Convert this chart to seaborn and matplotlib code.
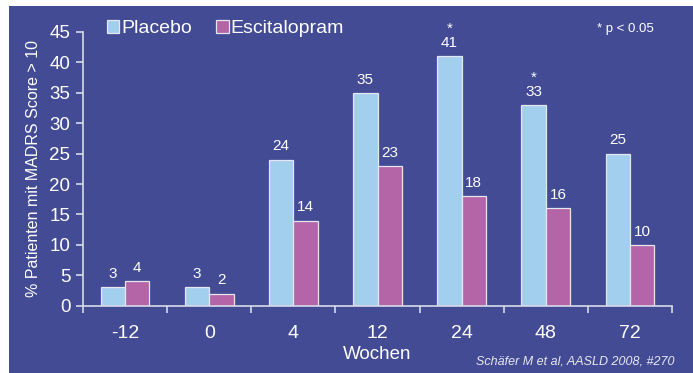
import matplotlib
matplotlib.use("Agg")
import matplotlib.pyplot as plt
import seaborn as sns
import pandas as pd
from matplotlib.patches import Rectangle, Patch

weeks = ["-12", "0", "4", "12", "24", "48", "72"]
placebo = [3, 3, 24, 35, 41, 33, 25]
escitalopram = [4, 2, 14, 23, 18, 16, 10]
placebo_sig = ["", "", "", "", "*", "*", ""]
series_names = ["Placebo", "Escitalopram"]

BG = "#424b94"
C_PLA = "#a3cfee"
C_ESC = "#b465a8"
FG = "white"
SPINE = "#d8dbe8"
EDGE = "#e4e6f0"

df = pd.DataFrame({
    "Wochen": weeks * 2,
    "value": placebo + escitalopram,
    "group": [series_names[0]] * len(weeks) + [series_names[1]] * len(weeks),
})

sns.set_theme(style="white")
plt.rcParams["font.family"] = ["Liberation Sans", "DejaVu Sans"]

fig = plt.figure(figsize=(6.93, 3.73), dpi=100, facecolor="white")
fig.patches.append(Rectangle((9 / 693, 0), 1 - 9 / 693, 1 - 6 / 373,
                             transform=fig.transFigure, facecolor=BG,
                             edgecolor="none", zorder=-10))
ax = fig.add_axes([83 / 693, 1 - 305.7 / 373, (672 - 83) / 693, (305.7 - 32) / 373])
ax.set_facecolor("none")

sns.barplot(data=df, x="Wochen", y="value", hue="group", order=weeks,
            hue_order=series_names, palette=[C_PLA, C_ESC], saturation=1,
            width=0.58, gap=0, edgecolor=EDGE, linewidth=0.9, ax=ax, legend=False)

ax.set_ylim(0, 45)
ax.set_xlim(-0.5, len(weeks) - 0.5)
ax.set_yticks(range(0, 46, 5))
ax.tick_params(axis="y", colors=SPINE, labelcolor=FG, labelsize=13.5, length=5,
               width=1.2, left=True, direction="out", pad=4)
ax.set_xticks(range(len(weeks)))
ax.set_xticklabels(weeks)
ax.tick_params(axis="x", which="major", length=0, labelcolor=FG, labelsize=14, pad=14)
ax.set_xticks([i - 0.5 for i in range(len(weeks) + 1)], minor=True)
ax.tick_params(axis="x", which="minor", length=5, width=1.2, color=SPINE,
               bottom=True, direction="out")
for s in ["top", "right"]:
    ax.spines[s].set_visible(False)
for s in ["left", "bottom"]:
    ax.spines[s].set_color(SPINE)
    ax.spines[s].set_linewidth(1.2)

ax.set_xlabel("Wochen", color=FG, fontsize=13.5, labelpad=3)
ax.set_ylabel("% Patienten mit MADRS Score > 10", color=FG, fontsize=11.5, labelpad=6)

ax.bar_label(ax.containers[0], labels=[str(v) for v in placebo], padding=4.5,
             color=FG, fontsize=11)
ax.bar_label(ax.containers[1], labels=[str(v) for v in escitalopram], padding=4.5,
             color=FG, fontsize=11)
for bar, s in zip(ax.containers[0], placebo_sig):
    if s:
        ax.annotate(s, xy=(bar.get_x() + bar.get_width() / 2, bar.get_height()),
                    xytext=(0, 17), textcoords="offset points", ha="center",
                    va="baseline", color=FG, fontsize=11)

handles = [Patch(facecolor=C_PLA, edgecolor=EDGE, linewidth=0.9),
           Patch(facecolor=C_ESC, edgecolor=EDGE, linewidth=0.9)]
leg = fig.legend(handles, series_names, loc="upper left",
                 bbox_to_anchor=(107 / 693, 1 - 20 / 373), ncol=2, frameon=False,
                 fontsize=14, handlelength=0.62, handleheight=0.62,
                 handletextpad=0.12, columnspacing=1.25, borderaxespad=0,
                 borderpad=0)
for t in leg.get_texts():
    t.set_color(FG)

fig.text(597 / 693, 1 - 29 / 373, "* p < 0.05", color=FG, fontsize=9.5, va="center", ha="left")
fig.text(675 / 693, 1 - 362 / 373, "Schäfer M et al, AASLD 2008, #270", color="#e8e8f0",
         fontsize=9, style="italic", va="center", ha="right")

fig.savefig("out.png", dpi=100, facecolor="white")
